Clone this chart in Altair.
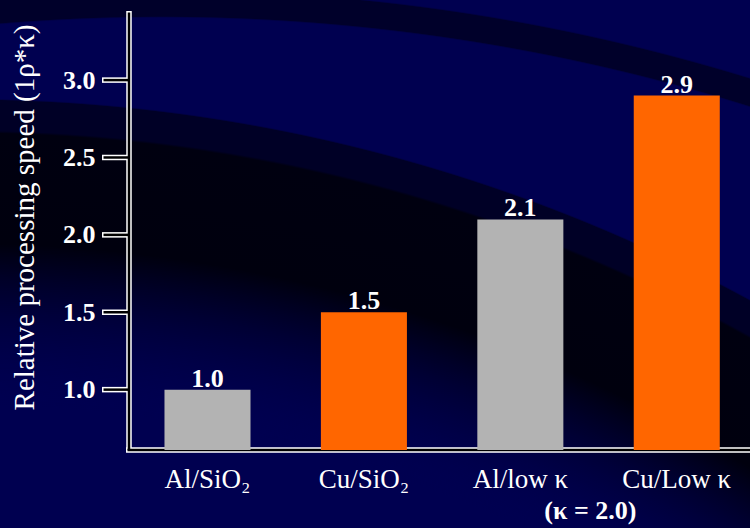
import altair as alt
import pandas as pd

# Bar chart: relative processing speed of interconnect / dielectric combinations
categories = ["Al/SiO₂", "Cu/SiO₂", "Al/low κ", "Cu/Low κ"]
speeds = [1.0, 1.5, 2.1, 2.9]
value_labels = ["1.0", "1.5", "2.1", "2.9"]
bar_colors = ["#B3B3B3", "#FF6600", "#B3B3B3", "#FF6600"]
tick_values = [1.0, 1.5, 2.0, 2.5, 3.0]
kappa_note = "(κ = 2.0)"
y_title = "Relative processing speed (1ρ*κ)"

W, H = 621, 438
PAD = {"left": 129, "top": 12, "right": 0, "bottom": 78}
Y_MIN, Y_MAX = 0.61, 3.44
SERIF = "'Liberation Serif', 'Times New Roman', Times, 'DejaVu Serif', serif"
NAVY = "#000050"
CLEAR = "rgba(0,0,80,0)"

bars_df = pd.DataFrame(
    {"cat": categories, "speed": speeds, "label": value_labels, "color": bar_colors}
)
ticks_df = pd.DataFrame({"speed": tick_values})
note_df = pd.DataFrame({"cat": [categories[2]], "note": [kappa_note]})
one_row = alt.Data(values=[{}])

x_scale = alt.Scale(domain=categories, paddingInner=0.45, paddingOuter=0.21, align=0.54)
y_scale = alt.Scale(domain=[Y_MIN, Y_MAX], zero=False, nice=False)

# Axes carry only the text; their lines are drawn as double-stroked rules below
x_axis = alt.Axis(
    domainOpacity=0, ticks=False, labelAngle=0, zindex=1,
    labelColor="white", labelFont=SERIF, labelFontSize=27, labelPadding=16,
)
y_axis = alt.Axis(
    values=tick_values, format=".1f", grid=False, zindex=1,
    domainOpacity=0, tickOpacity=0, tickSize=26,
    labelColor="white", labelFont=SERIF, labelFontSize=26,
    labelFontWeight="bold", labelPadding=8,
    titleColor="white", titleFont=SERIF, titleFontSize=29,
    titleFontWeight="normal", titleAngle=270, titleX=-96, titleY=205,
    titleAlign="center", titleBaseline="alphabetic",
)


def canvas_rect(gradient):
    return alt.Chart(one_row).mark_rect(fill=gradient).encode(
        x=alt.value(-PAD["left"]), x2=alt.value(W),
        y=alt.value(-PAD["top"]), y2=alt.value(H + PAD["bottom"]),
    )


# Sweeping dark arcs of the slide backdrop (radial gradients, centres far below)
lower_arc = canvas_rect(alt.RadialGradient(
    gradient="radial", x1=-0.0515, y1=2.4787, r1=0, x2=-0.0515, y2=2.4787, r2=2.2667,
    stops=[
        alt.GradientStop(color=CLEAR, offset=0.0),
        alt.GradientStop(color=CLEAR, offset=0.790),
        alt.GradientStop(color="#00000E", offset=0.885),
        alt.GradientStop(color="#000010", offset=0.950),
        alt.GradientStop(color="#000026", offset=0.9515),
        alt.GradientStop(color="#000026", offset=0.9694),
        alt.GradientStop(color=CLEAR, offset=0.9706),
        alt.GradientStop(color=CLEAR, offset=1.0),
    ],
))
upper_arc = canvas_rect(alt.RadialGradient(
    gradient="radial", x1=0.216, y1=2.8033, r1=0, x2=0.216, y2=2.8033, r2=2.7333,
    stops=[
        alt.GradientStop(color=CLEAR, offset=0.0),
        alt.GradientStop(color=CLEAR, offset=0.9625),
        alt.GradientStop(color="#00002A", offset=0.9635),
        alt.GradientStop(color="#00002A", offset=0.9760),
        alt.GradientStop(color=CLEAR, offset=0.9770),
        alt.GradientStop(color=CLEAR, offset=1.0),
    ],
))


def axis_lines(color, width, ext):
    tick_rules = alt.Chart(ticks_df).mark_rule(color=color, strokeWidth=width).encode(
        y=alt.Y("speed:Q"), x=alt.value(-27 + ext), x2=alt.value(0)
    )
    y_line = alt.Chart(one_row).mark_rule(color=color, strokeWidth=width).encode(
        x=alt.value(0), y=alt.value(ext - 1), y2=alt.value(H)
    )
    x_line = alt.Chart(one_row).mark_rule(color=color, strokeWidth=width).encode(
        y=alt.value(H), x=alt.value(-3 + ext), x2=alt.value(W)
    )
    return [tick_rules, y_line, x_line]


bars = alt.Chart(bars_df).mark_bar().encode(
    x=alt.X("cat:N", sort=categories, scale=x_scale, axis=x_axis, title=None),
    y=alt.Y("speed:Q", scale=y_scale, axis=y_axis, title=y_title),
    y2=alt.datum(Y_MIN),
    color=alt.Color("color:N", scale=None),
)

values_text = alt.Chart(bars_df).mark_text(
    font=SERIF, fontSize=26, fontWeight="bold", color="white",
    baseline="alphabetic", dy=-3,
).encode(
    x=alt.X("cat:N", sort=categories),
    y=alt.Y("speed:Q"),
    text="label:N",
)

note = alt.Chart(note_df).mark_text(
    font=SERIF, fontSize=26, fontWeight="bold", color="white",
    align="center", baseline="alphabetic", dx=70,
).encode(
    x=alt.X("cat:N", sort=categories),
    y=alt.value(H + 69),
    text="note:N",
)

chart = (
    alt.layer(
        lower_arc, upper_arc,
        *axis_lines("white", 5.5, 0),
        *axis_lines("black", 2.5, 1.5),
        bars, values_text, note,
    )
    .properties(
        width=W, height=H, padding=PAD,
        autosize=alt.AutoSizeParams(type="none"),
        background=NAVY,
    )
    .configure_view(stroke=None)
)

chart.save("out.html", embed_options={"renderer": "svg", "actions": False})
